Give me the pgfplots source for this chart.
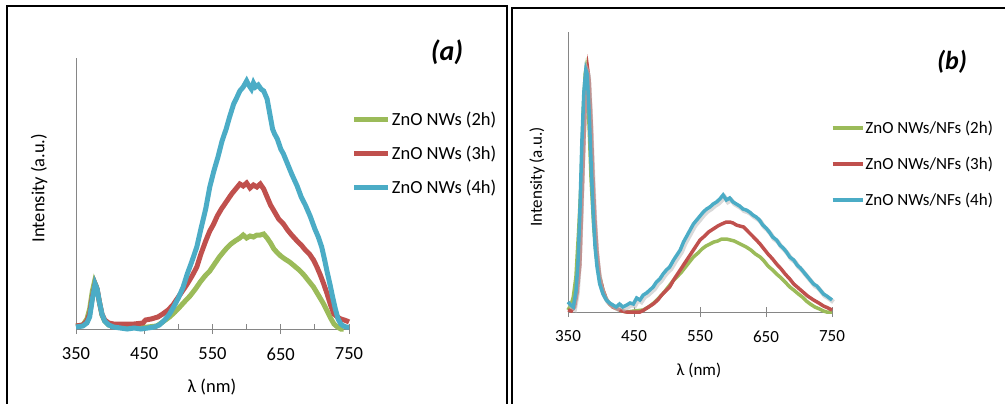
\documentclass[border=0pt]{standalone}
\usepackage{pgfplots}
\pgfplotsset{compat=1.18}
\usepackage{fontspec}
\setmainfont{Carlito}
\definecolor{cgreen}{RGB}{155,187,89}
\definecolor{cred}{RGB}{192,80,77}
\definecolor{cblue}{RGB}{75,172,198}
\definecolor{axgray}{RGB}{134,134,134}
\pgfplotsset{myaxis/.style={
  scale only axis, axis x line=bottom, axis y line=left,
  axis line style={-, draw=axgray, line width=1bp},
  xmin=350, xmax=750, ymin=0,
  xtick={350,450,550,650,750}, ytick=\empty,
  xtick align=center, major tick length=10bp, minor tick length=5bp,
  tick style={axgray, line width=1bp},
  clip=false,
  /pgf/number format/assume math mode=true,
  legend cell align=left,
  legend style={draw=none, fill=none, anchor=north west, inner sep=0pt,
     nodes={inner xsep=1bp, inner ysep=2bp}},
}}
\pgfplotstableread{
x y
350 10
354 7
358 5
362 20
365 48
368 100
371 170
374 220
377 242
379 238
382 200
385 148
388 100
391 65
394 45
398 28
403 18
408 12
413 9
418 7
423 5
428 8
433 5
439 7
444 9
449 8
454 14
459 12
464 17
469 19
474 22
479 25
484 30
489 33
494 38
499 42
504 45
510 52
515 57
520 62
525 70
530 76
535 82
540 88
545 92
550 96
555 100
560 103
565 105
570 108
575 110
580 113
585 117
590 112
595 114
600 110
605 108
610 106
615 103
620 102
625 100
630 97
635 95
640 92
645 87
650 84
655 80
660 75
666 72
671 67
676 64
681 60
686 55
692 52
697 47
702 44
707 40
712 36
717 32
722 28
727 26
732 22
737 18
742 16
746 14
750 12
}\blueb
\begin{document}
\begin{tikzpicture}[x=1bp,y=1bp]
\path[use as bounding box] (0,0) rectangle (1005,403);
\draw[line width=1.8bp] (7,-5) -- (7,397) -- (507,397) -- (507,-5);
\draw[line width=1.8bp] (512,-5) -- (512,395) -- (1010,395);
\node[font=\fontsize{28bp}{32bp}\selectfont\bfseries\itshape] at (447,351) {(a)};
\node[font=\fontsize{26bp}{30bp}\selectfont\bfseries\itshape] at (952,341) {(b)};
% ---------------- panel (a)
\begin{axis}[myaxis, at={(76bp,74bp)}, anchor=south west,
  width=273bp, height=271bp, ymax=271,
  minor xtick={400,500,600,700},
  every minor tick/.append style={yshift=2.5bp},
  ticklabel style={font=\fontsize{18.5bp}{22bp}\selectfont},
  xticklabel style={yshift=-10bp},
  xlabel={λ (nm)}, ylabel={Intensity (a.u.)},
  xlabel style={font=\fontsize{18.5bp}{22bp}\selectfont, at={(axis description cs:0.498,-0.214)}, anchor=center},
  ylabel style={font=\fontsize{18.5bp}{22bp}\selectfont, at={(axis description cs:-0.135,0.52)}, anchor=center},
  legend image code/.code={\draw[#1] (0bp,0bp) -- (34bp,0bp);},
  legend style={at={(axis description cs:1.01,0.81)}, font=\fontsize{18.5bp}{22bp}\selectfont, row sep=15bp},
]
\addplot[cgreen, line width=5bp] coordinates {
(350,3)(360,4)(366,10)(370,20)(374,38)(377,47)(380,42)(384,28)(388,14)(392,8)(398,4)(405,3)(420,2)(440,2)(455,2)(468,3)(475,6)(481,9)(487,12)(495,17)(502,22)(510,28)(517,33)(525,40)(532,47)(539,53)(546,58)(553,65)(560,72)(566,77)(571,81)(577,85)(583,88)(590,91)(595,94)(600,91)(605,93)(610,92)(615,94)(620,94)(625,95)(630,91)(635,86)(640,80)(644,77)(650,73)(656,70)(663,67)(670,63)(677,59)(684,54)(691,48)(698,42)(705,34)(712,26)(718,18)(723,11)(728,5)(733,2)(738,0)(742,0)};
\addlegendentry{ZnO NWs (2h)}
\addplot[cred, line width=5bp] coordinates {
(350,3)(360,4)(366,8)(370,15)(374,32)(378,45)(381,40)(384,28)(388,15)(392,9)(398,6)(405,5)(420,5)(435,5)(448,6)(452,9)(460,10)(470,12)(477,15)(485,19)(492,24)(497,29)(505,37)(512,44)(520,53)(527,62)(533,75)(540,88)(546,98)(551,104)(557,113)(563,120)(571,128)(578,135)(584,140)(590,145)(595,143)(600,146)(605,141)(610,144)(615,142)(620,145)(625,140)(630,132)(635,124)(641,117)(647,110)(654,105)(660,99)(666,94)(674,88)(680,84)(686,79)(692,75)(698,69)(703,62)(708,54)(713,45)(718,35)(723,24)(728,15)(733,12)(738,10)(743,9)(747,8)(750,7)};
\addlegendentry{ZnO NWs (3h)}
\addplot[cblue, line width=5bp] coordinates {
(350,2)(360,3)(366,6)(370,12)(374,30)(378,45)(381,40)(384,28)(388,15)(392,8)(398,4)(405,2)(415,1)(425,0)(435,1)(445,0)(455,1)(465,2)(472,4)(480,9)(487,15)(493,22)(500,31)(507,42)(513,55)(520,68)(527,82)(533,100)(540,120)(546,142)(552,158)(558,172)(564,188)(570,200)(575,212)(581,225)(586,232)(590,238)(595,242)(600,248)(603,244)(607,240)(610,246)(613,242)(617,244)(621,240)(625,238)(630,230)(634,215)(638,200)(641,195)(645,190)(650,180)(654,175)(660,165)(666,155)(674,143)(680,132)(686,124)(693,113)(700,100)(705,92)(710,82)(714,70)(718,57)(722,45)(726,32)(730,20)(734,10)(738,5)(742,3)(746,2)(750,2)};
\addlegendentry{ZnO NWs (4h)}
\end{axis}
% ---------------- panel (b)
\begin{axis}[myaxis, at={(568bp,91bp)}, anchor=south west,
  width=264bp, height=280bp, ymax=280,
  ticklabel style={font=\fontsize{17bp}{20bp}\selectfont},
  xticklabel style={yshift=-10bp},
  xlabel={λ (nm)}, ylabel={Intensity (a.u.)},
  xlabel style={font=\fontsize{17bp}{20bp}\selectfont, at={(axis description cs:0.496,-0.207)}, anchor=center},
  ylabel style={font=\fontsize{17bp}{20bp}\selectfont, at={(axis description cs:-0.117,0.482)}, anchor=center},
  legend image code/.code={\draw[#1] (0bp,0bp) -- (30bp,0bp);},
  legend style={at={(axis description cs:0.995,0.69)}, font=\fontsize{17bp}{20bp}\selectfont, row sep=18bp},
]
\addplot[cgreen, line width=3.5bp] coordinates {
(350,2)(355,8)(358,15)(362,35)(366,80)(370,132)(373,200)(376,238)(377,242)(379,230)(382,185)(385,132)(389,85)(393,55)(398,35)(403,22)(408,13)(413,8)(418,5)(425,3)(432,1)(439,0)(450,1)(464,2)(472,5)(480,9)(489,15)(496,20)(503,26)(509,31)(515,35)(522,40)(528,45)(534,50)(540,55)(547,59)(553,63)(559,66)(565,68)(571,70)(577,71)(583,73)(590,73)(596,72)(602,71)(608,69)(614,67)(620,65)(627,62)(634,58)(641,55)(647,51)(653,46)(660,42)(666,38)(673,34)(679,30)(686,25)(692,22)(699,18)(705,15)(711,11)(717,8)(724,5)(731,3)(737,1)(742,0)(747,0)(750,0)};
\addlegendentry{ZnO NWs/NFs (2h)}
\addplot[cred, line width=3.5bp] coordinates {
(350,2)(355,1)(360,5)(364,20)(368,48)(371,110)(374,170)(377,220)(380,242)(382,232)(385,190)(388,132)(391,90)(394,60)(398,35)(403,22)(408,13)(413,8)(418,5)(425,3)(432,1)(439,0)(449,0)(459,0)(465,2)(472,5)(479,8)(486,12)(492,17)(498,21)(504,25)(510,32)(517,39)(523,45)(530,52)(536,58)(543,65)(550,72)(557,76)(563,80)(570,83)(577,86)(583,88)(590,90)(595,90)(600,89)(605,87)(610,86)(616,85)(622,81)(628,77)(634,73)(641,68)(647,63)(653,58)(660,53)(666,48)(673,43)(679,38)(686,33)(692,28)(699,24)(706,20)(713,16)(722,12)(730,9)(737,6)(744,4)(750,2)};
\addlegendentry{ZnO NWs/NFs (3h)}
\addplot[black!25, opacity=0.6, line width=4.5bp, forget plot, shift={(1.5bp,-2bp)}] table {\blueb};
\addplot[cblue, line width=3.5bp] table {\blueb};
\addlegendentry{ZnO NWs/NFs (4h)}
\end{axis}
\end{tikzpicture}
\end{document}
